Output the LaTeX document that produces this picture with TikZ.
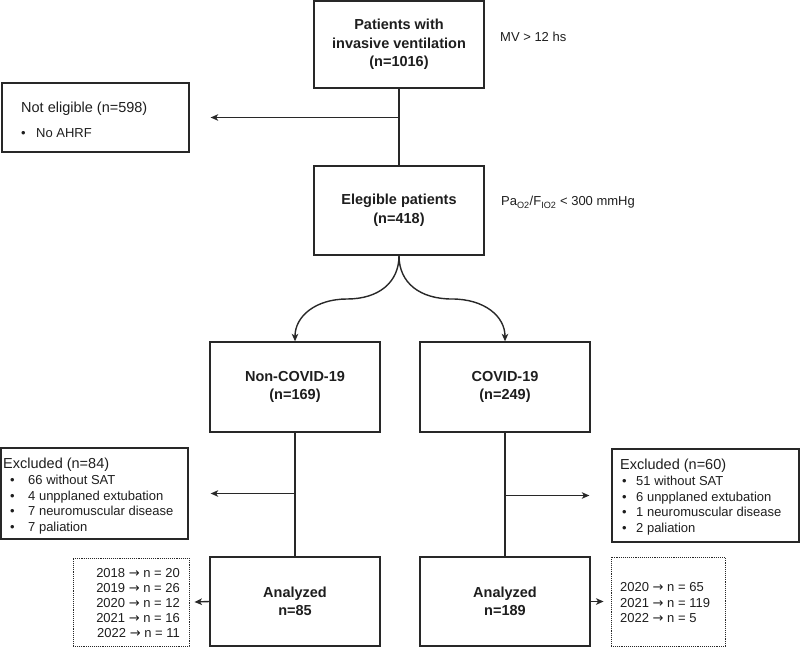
\documentclass[tikz,border=0pt]{standalone}
\usepackage{fontspec}
\setmainfont{Liberation Sans}
\newfontfamily\arrfont{DejaVu Sans}
\newcommand{\yarr}{{\arrfont →}}
\usetikzlibrary{arrows.meta}
\definecolor{ln}{RGB}{40,40,40}
\definecolor{tx}{RGB}{30,30,30}
\begin{document}
\begin{tikzpicture}[x=1pt,y=-1pt,
  box/.style={draw=ln, line width=1.3pt, rectangle, inner sep=0pt, align=center, text=tx,
    font=\bfseries\fontsize{14.5}{18.5}\selectfont},
  dotbox/.style={draw=ln, line width=0.9pt, densely dotted, rectangle, inner sep=0pt},
  conn/.style={draw=ln, line width=1.4pt},
  arr/.style={conn, -{Stealth[length=7.5pt,width=6.5pt,inset=2pt]}},
  ttl/.style={anchor=base west, inner sep=0pt, text=tx, font=\fontsize{14.5}{17}\selectfont},
  itm/.style={anchor=base west, inner sep=0pt, text=tx, font=\fontsize{13}{15.5}\selectfont},
  itmr/.style={anchor=base east, inner sep=0pt, text=tx, font=\fontsize{13}{15.5}\selectfont}]
\useasboundingbox (0,0) rectangle (800,647);

% main boxes
\node[box, minimum width=170, minimum height=87] (top) at (399,44.5) {Patients with\\invasive ventilation\\(n=1016)};
\node[box, minimum width=170, minimum height=89] (eleg) at (399,210.5) {Elegible patients\\(n=418)};
\node[box, minimum width=170, minimum height=90] (ncov) at (295,387) {Non-COVID-19\\(n=169)};
\node[box, minimum width=170, minimum height=90] (cov) at (505,387) {COVID-19\\(n=249)};
\node[box, minimum width=170, minimum height=89] (anl) at (295,601.5) {Analyzed\\n=85};
\node[box, minimum width=170, minimum height=89] (anr) at (505,601.5) {Analyzed\\n=189};

% side boxes
\node[box, minimum width=187, minimum height=69] (ne) at (95.5,117.5) {};
\node[box, minimum width=187, minimum height=91] (exl) at (94.5,493.5) {};
\node[box, minimum width=187, minimum height=93] (exr) at (705.5,495.5) {};
\node[dotbox, minimum width=116, minimum height=88] (dotl) at (131,602) {};
\node[dotbox, minimum width=114, minimum height=89] (dotr) at (668,601.5) {};

% side notes
\node[itm] (mv) at (500,42) {MV > 12 hs};
\node[itm] (pf) at (501,206) {Pa\textsubscript{O2}/F\textsubscript{IO2} < 300 mmHg};

% not eligible text
\node[ttl] (net) at (21,113) {Not eligible (n=598)};
\node[itm] (neb) at (21,138) {•};
\node[itm] (ne1) at (36,138) {No AHRF};

% excluded left
\node[ttl] (exlt) at (3,468) {Excluded (n=84)};
\node[itm] (exlb1) at (10,484) {•};
\node[itm] (exlb2) at (10,500) {•};
\node[itm] (exlb3) at (10,515) {•};
\node[itm] (exlb4) at (10,531) {•};
\node[itm] (exl1) at (28,484) {66 without SAT};
\node[itm] (exl2) at (28,500) {4 unpplaned extubation};
\node[itm] (exl3) at (28,515) {7 neuromuscular disease};
\node[itm] (exl4) at (28,531) {7 paliation};

% excluded right
\node[ttl] (exrt) at (620,469) {Excluded (n=60)};
\node[itm] (exrb1) at (622,485) {•};
\node[itm] (exrb2) at (622,501) {•};
\node[itm] (exrb3) at (622,516) {•};
\node[itm] (exrb4) at (622,532) {•};
\node[itm] (exr1) at (636,485) {51 without SAT};
\node[itm] (exr2) at (636,501) {6 unpplaned extubation};
\node[itm] (exr3) at (636,516) {1 neuromuscular disease};
\node[itm] (exr4) at (636,532) {2 paliation};

% years left
\node[itmr] (yl1) at (180,577) {2018 \yarr{} n = 20};
\node[itmr] (yl2) at (180,592) {2019 \yarr{} n = 26};
\node[itmr] (yl3) at (180,607) {2020 \yarr{} n = 12};
\node[itmr] (yl4) at (180,622) {2021 \yarr{} n = 16};
\node[itmr] (yl5) at (180,637) {2022 \yarr{} n = 11};

% years right
\node[itm] (yr1) at (620,591) {2020 \yarr{} n = 65};
\node[itm] (yr2) at (620,607) {2021 \yarr{} n = 119};
\node[itm] (yr3) at (620,622) {2022 \yarr{} n = 5};

% connectors
\draw[conn] (top.south) -- (eleg.north);
\draw[arr] (top.south |- ne.east) -- ([xshift=21pt]ne.east);
\draw[arr] (eleg.south) .. controls (399,283) and (378,299) .. (347,299)
            .. controls (316,299) and (295,316) .. (ncov.north);
\draw[arr] (eleg.south) .. controls (399,283) and (420,299) .. (452,299)
            .. controls (484,299) and (505,316) .. (cov.north);
\draw[conn] (ncov.south) -- (anl.north);
\draw[conn] (cov.south) -- (anr.north);
\draw[arr] (ncov.south |- exl.east) -- ([xshift=22pt]exl.east);
\draw[arr] (cov.south |- exr.west) -- ([xshift=-22pt]exr.west);
\draw[arr] (anl.west) -- ([xshift=5pt]dotl.east);
\draw[arr] (anr.east) -- ([xshift=-7pt]dotr.west);
\end{tikzpicture}
\end{document}
